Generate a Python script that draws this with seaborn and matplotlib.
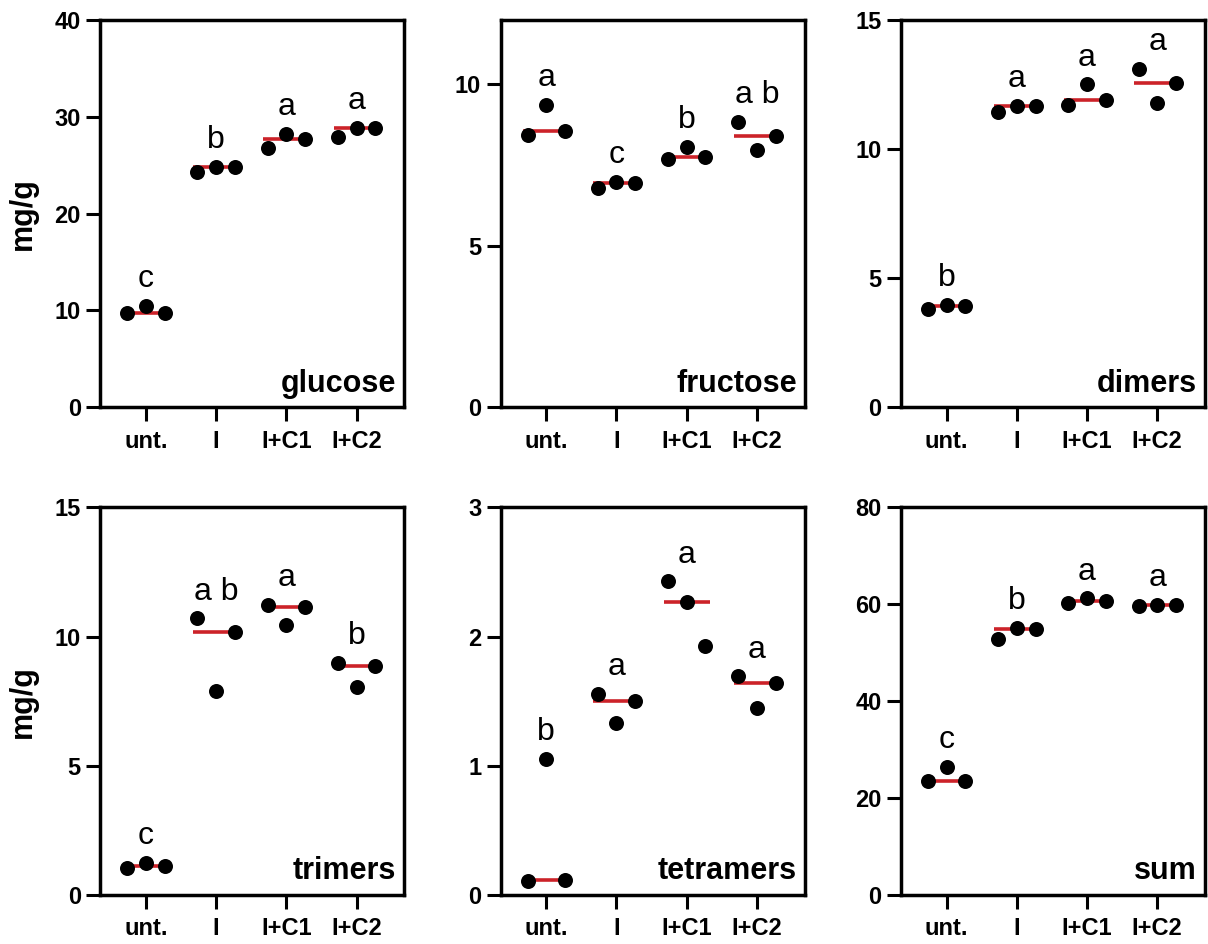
import numpy as np
import pandas as pd
import seaborn as sns
import matplotlib.pyplot as plt

groups = ["unt.", "I", "I+C1", "I+C2"]
panels = ["glucose", "fructose", "dimers", "trimers", "tetramers", "sum"]

# three replicates per group (mg/g), listed left / middle / right as plotted
glucose = [[9.71, 10.50, 9.71], [24.34, 24.85, 24.85], [26.75, 28.19, 27.68], [27.95, 28.88, 28.88]]
fructose = [[8.44, 9.37, 8.55], [6.80, 6.98, 6.95], [7.70, 8.06, 7.75], [8.84, 7.96, 8.39]]
dimers = [[3.81, 3.98, 3.94], [11.45, 11.67, 11.67], [11.71, 12.50, 11.90], [13.11, 11.78, 12.56]]
trimers = [[1.06, 1.25, 1.12], [10.70, 7.90, 10.16], [11.23, 10.46, 11.15], [8.97, 8.03, 8.87]]
tetramers = [[0.108, 1.053, 0.114], [1.554, 1.330, 1.498], [2.427, 2.264, 1.924], [1.691, 1.446, 1.640]]
total = [[23.45, 26.37, 23.45], [52.88, 55.17, 54.96], [60.24, 61.21, 60.58], [59.68, 59.89, 59.89]]

# significance letters
glucose_letters = ["c", "b", "a", "a"]
fructose_letters = ["a", "c", "b", "a b"]
dimers_letters = ["b", "a", "a", "a"]
trimers_letters = ["c", "a b", "a", "b"]
tetramers_letters = ["b", "a", "a", "a"]
total_letters = ["c", "b", "a", "a"]

y_max = [40, 12, 15, 15, 3, 80]
y_ticks = [[0, 10, 20, 30, 40], [0, 5, 10], [0, 5, 10, 15], [0, 5, 10, 15], [0, 1, 2, 3], [0, 20, 40, 60, 80]]

values = [glucose, fructose, dimers, trimers, tetramers, total]
letters = [glucose_letters, fructose_letters, dimers_letters, trimers_letters, tetramers_letters, total_letters]

rows = []
for name, vals in zip(panels, values):
    for g, reps in zip(groups, vals):
        for r, v in enumerate(reps):
            rows.append({"panel": name, "group": g, "rep": str(r + 1), "value": v})
df = pd.DataFrame(rows)

sns.set_style("ticks")
plt.rcParams["font.family"] = ["Liberation Sans", "DejaVu Sans"]
plt.rcParams["font.weight"] = "bold"
plt.rcParams["axes.labelweight"] = "bold"
for key in ["text.color", "axes.labelcolor", "xtick.color", "ytick.color", "axes.edgecolor"]:
    plt.rcParams[key] = "black"

red = "#cc2229"

fig, axes = plt.subplots(2, 3, figsize=(12.08, 9.44), dpi=100)
fig.subplots_adjust(left=0.083, right=0.9975, top=0.979, bottom=0.052, wspace=0.317, hspace=0.258)

for k, ax in enumerate(axes.flat):
    name = panels[k]
    d = df[df.panel == name]

    # median line
    sns.pointplot(data=d, x="group", y="value", order=groups, estimator="median",
                  errorbar=None, color=red, markers="_", linestyles="none",
                  markersize=33, markeredgewidth=2.6, ax=ax)
    sns.stripplot(data=d, x="group", y="value", order=groups, hue="rep", dodge=True,
                  jitter=False, palette=["black"] * 3, size=10.8, legend=False,
                  ax=ax, zorder=3)

    tops = d.groupby("group")["value"].max()
    for i, g in enumerate(groups):
        ax.annotate(letters[k][i], xy=(i, tops[g]), xytext=(0, 13.5),
                    textcoords="offset points", ha="center", va="baseline",
                    fontsize=23, fontweight="normal", color="black")

    ax.text(0.974, 0.04, name, transform=ax.transAxes, ha="right", va="baseline",
            fontsize=22, fontweight="bold", color="black")

    ax.set_xlim(-0.65, 3.68)
    ax.set_ylim(0, y_max[k])
    ax.set_yticks(y_ticks[k])
    ax.set_xlabel("")
    if k % 3 == 0:
        ax.set_ylabel("mg/g", fontsize=22)
        ax.yaxis.set_label_coords(-0.205, 0.5)
    else:
        ax.set_ylabel("")
    for s in ax.spines.values():
        s.set_visible(True)
        s.set_linewidth(2.5)
        s.set_color("black")
    ax.tick_params(length=10, width=2.2, labelsize=17, pad=4, color="black")
    ax.tick_params(axis="x", pad=6)

plt.savefig("out.png", dpi=100)
